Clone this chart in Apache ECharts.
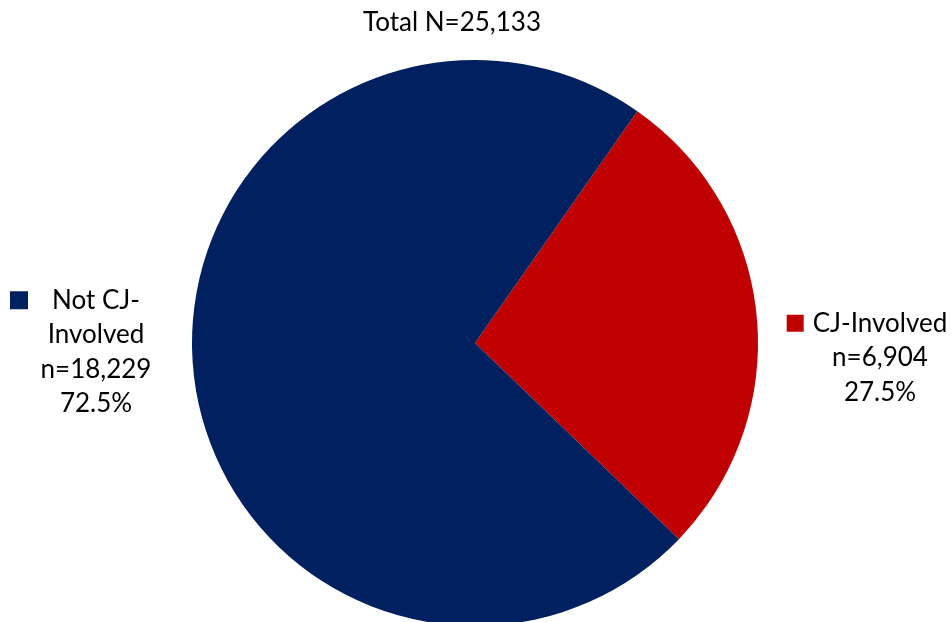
<!DOCTYPE html>
<html>
<head>
<meta charset="utf-8">
<script src="https://cdn.jsdelivr.net/npm/echarts@6/dist/echarts.min.js"></script>
<style>html,body{margin:0;padding:0;background:#fff}#c{width:951px;height:622px}</style>
</head>
<body>
<div id="c"></div>
<script>
const categories = ['CJ-Involved', 'Not CJ-Involved'];
const counts = [6904, 18229];
const percents = ['27.5%', '72.5%'];
const labelLines = [['CJ-Involved', 'n=6,904', '27.5%'], ['Not CJ-', 'Involved', 'n=18,229', '72.5%']];
const colors = ['#C00000', '#002060'];
const totalLabel = 'Total N=25,133';

const FONT = 'Lato';
const chart = echarts.init(document.getElementById('c'));
const labelPos = [{x: 880, y: 306}, {x: 96, y: 283}];
const gaps = [9, 24];

chart.setOption({
  animation: false,
  title: {
    text: totalLabel,
    left: 447, top: 5, textAlign: 'center',
    textStyle: {fontFamily: FONT, fontSize: 26, fontWeight: 'normal', color: '#000'}
  },
  series: [{
    type: 'pie',
    center: [475, 343],
    radius: 283,
    startAngle: 55,
    clockwise: true,
    data: categories.map((c, i) => ({name: c, value: counts[i], itemStyle: {color: colors[i]}})),
    labelLine: {show: false},
    label: {
      show: true,
      position: 'outside',
      overflow: 'none',
      formatter: p => {
        const i = p.dataIndex;
        const lines = labelLines[i];
        const first = '{sq' + i + '|}{g' + i + '|}{t|' + lines[0] + '}{p' + i + '|}';
        return [first].concat(lines.slice(1).map(l => '{t|' + l + '}')).join('\n');
      },
      align: 'center',
      rich: {
        t: {fontFamily: FONT, fontSize: 26, color: '#000', lineHeight: 34.5},
        sq0: {width: 17, height: 17, backgroundColor: colors[0]},
        sq1: {width: 18, height: 18, backgroundColor: colors[1]},
        g0: {width: gaps[0], height: 1},
        g1: {width: gaps[1], height: 1},
        p0: {width: 17 + gaps[0], height: 1},
        p1: {width: 18 + gaps[1], height: 1}
      }
    },
    labelLayout: p => ({x: labelPos[p.dataIndex].x, y: labelPos[p.dataIndex].y, align: 'center', verticalAlign: 'top'})
  }]
});
</script>
</body>
</html>
